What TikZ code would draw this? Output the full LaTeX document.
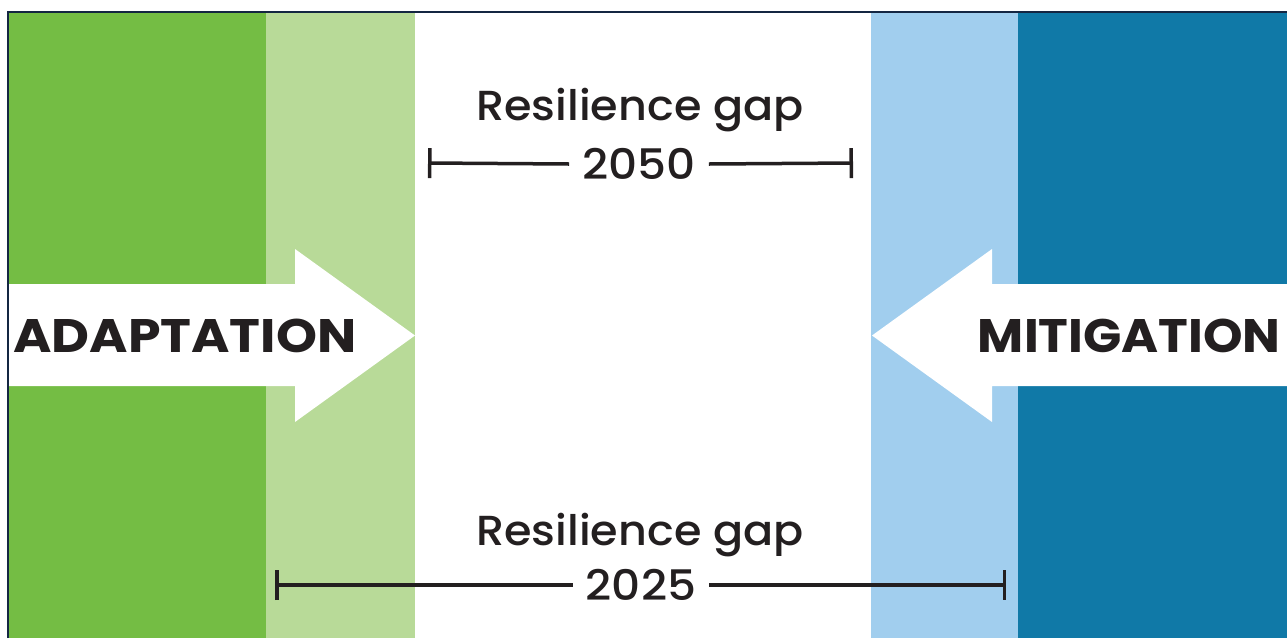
\documentclass[tikz,border=0pt]{standalone}
\usepackage{fontspec}
\setmainfont{Poppins}[UprightFont=* Medium, BoldFont=* Bold]
\usepackage{tikz}
\usetikzlibrary{arrows.meta}

\definecolor{adaptdark}{RGB}{116,189,68}
\definecolor{adaptlight}{RGB}{184,218,152}
\definecolor{mitlight}{RGB}{161,206,238}
\definecolor{mitdark}{RGB}{16,121,167}
\definecolor{inkblack}{RGB}{35,31,32}
\definecolor{framenavy}{RGB}{20,38,66}

\tikzset{
    bigword/.style={font=\bfseries\fontsize{47}{47}\selectfont, text=inkblack, inner sep=0pt},
    gaptitle/.style={font=\fontsize{42}{42}\selectfont, text=inkblack, inner sep=0pt},
    gapyear/.style={font=\fontsize{42}{42}\selectfont, text=inkblack, inner xsep=13pt, inner ysep=0pt},
    gapline/.style={line width=3.5pt, color=inkblack}
}

\begin{document}
\begin{tikzpicture}[x=1pt,y=-1pt]
    \useasboundingbox (0,0) rectangle (1287,638);

    % colour bands
    \fill[adaptdark] (8,12) rectangle (266,638);
    \fill[adaptlight] (266,12) rectangle (415,638);
    \fill[mitlight] (871,12) rectangle (1018,638);
    \fill[mitdark] (1018,12) rectangle (1287,638);

    % big arrows
    \fill[white] (8,284) -- (295,284) -- (295,249) -- (415,335.5) -- (295,422) -- (295,386) -- (8,386) -- cycle;
    \fill[white] (1287,284) -- (992,284) -- (992,249) -- (872,335.5) -- (992,422) -- (992,386) -- (1287,386) -- cycle;

    \node[bigword, anchor=west] (adapt) at (13,335.5) {\scalebox{1.11}[1]{ADAPTATION}};
    \node[bigword, anchor=east] (mitig) at (1281,335.5) {\scalebox{1.07}[1]{MITIGATION}};

    % gap 2050
    \node[gaptitle, anchor=base] (t2050) at (640,120) {\scalebox{1.06}[1]{Resilience gap}};
    \coordinate (l2050) at (428,163);
    \coordinate (r2050) at (853,163);
    \node[gapyear] (y2050) at (639,164) {\scalebox{1.08}[1]{2050}};
    \draw[gapline, {Bar[width=30pt]}-] (l2050) -- (y2050.west);
    \draw[gapline, -{Bar[width=30pt]}] (y2050.east) -- (r2050);

    % gap 2025
    \node[gaptitle, anchor=base] (t2025) at (640,545) {\scalebox{1.06}[1]{Resilience gap}};
    \coordinate (l2025) at (275,585);
    \coordinate (r2025) at (1006,585);
    \node[gapyear] (y2025) at (641,585) {\scalebox{1.08}[1]{2025}};
    \draw[gapline, {Bar[width=30pt]}-] (l2025) -- (y2025.west);
    \draw[gapline, -{Bar[width=30pt]}] (y2025.east) -- (r2025);

    \draw[framenavy, line width=2pt] (8,638) -- (8,12) -- (1287,12);
\end{tikzpicture}
\end{document}
